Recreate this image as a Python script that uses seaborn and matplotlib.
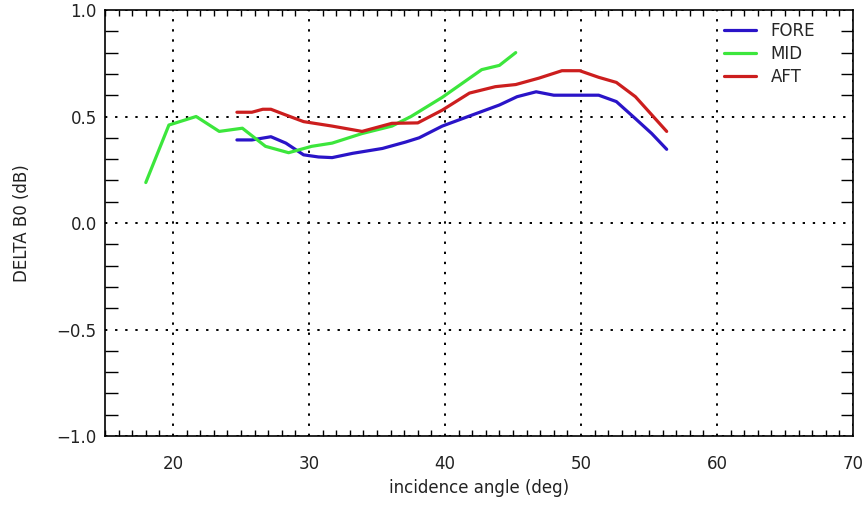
import numpy as np
import pandas as pd
import matplotlib
matplotlib.use("Agg")
import matplotlib.pyplot as plt
from matplotlib.ticker import MultipleLocator
import seaborn as sns

fore_x = [24.7, 25.8, 27.2, 28.3, 29.6, 30.7, 31.7, 33.2, 35.4, 37.1, 38.1, 39.8, 42.0, 44.0, 45.3, 46.7, 48.0, 49.9, 51.3, 52.6, 54.0, 55.2, 56.3]
fore_y = [0.39, 0.39, 0.405, 0.375, 0.32, 0.31, 0.307, 0.327, 0.35, 0.38, 0.40, 0.455, 0.507, 0.554, 0.593, 0.616, 0.60, 0.60, 0.60, 0.57, 0.49, 0.42, 0.346]

mid_x = [18.0, 19.7, 21.7, 23.4, 25.1, 26.8, 28.5, 30.2, 31.7, 33.9, 36.1, 37.5, 39.8, 42.7, 44.0, 45.2]
mid_y = [0.19, 0.46, 0.50, 0.43, 0.445, 0.36, 0.33, 0.36, 0.375, 0.42, 0.455, 0.50, 0.59, 0.72, 0.74, 0.80]

aft_x = [24.7, 25.8, 26.6, 27.2, 28.3, 29.6, 31.7, 33.9, 36.1, 38.0, 39.8, 41.8, 43.7, 45.2, 46.9, 48.6, 49.9, 51.3, 52.6, 54.0, 56.3]
aft_y = [0.52, 0.52, 0.534, 0.534, 0.507, 0.476, 0.455, 0.43, 0.468, 0.47, 0.53, 0.61, 0.64, 0.65, 0.68, 0.715, 0.715, 0.684, 0.66, 0.593, 0.43]

series = ["FORE", "MID", "AFT"]
colors = {"FORE": "#2a14c8", "MID": "#3ce63c", "AFT": "#cc1e1e"}

df = pd.concat([
    pd.DataFrame({"angle": fore_x, "delta": fore_y, "beam": "FORE"}),
    pd.DataFrame({"angle": mid_x, "delta": mid_y, "beam": "MID"}),
    pd.DataFrame({"angle": aft_x, "delta": aft_y, "beam": "AFT"}),
], ignore_index=True)

sns.set_style("white")
plt.rcParams["font.family"] = ["DejaVu Sans"]

fig = plt.figure(figsize=(8.67, 5.08), dpi=100)
ax = fig.add_axes([105 / 867, 1 - 436 / 508, (853 - 105) / 867, (436 - 10) / 508])

sns.lineplot(data=df, x="angle", y="delta", hue="beam", hue_order=series,
             palette=colors, sort=False, linewidth=2.3, ax=ax, estimator=None)

ax.set_xlim(15, 70)
ax.set_ylim(-1.0, 1.0)
ax.xaxis.set_minor_locator(MultipleLocator(1))
ax.yaxis.set_minor_locator(MultipleLocator(0.1))
ax.set_xticks([20, 30, 40, 50, 60, 70])
ax.set_xticklabels(["20", "30", "40", "50", "60", "70"])
ax.set_yticks([-1.0, -0.5, 0.0, 0.5, 1.0])
ax.set_yticklabels(["\u22121.0", "\u22120.5", "0.0", "0.5", "1.0"])

ax.tick_params(which="major", direction="in", length=0, labelsize=12,
               top=True, right=True, colors="black", labelcolor="#222222")
ax.tick_params(axis="x", which="major", pad=14)
ax.tick_params(axis="y", which="major", pad=6)
ax.tick_params(axis="x", which="minor", direction="in", length=4, width=1,
               top=True, bottom=True, color="black")
ax.tick_params(axis="y", which="minor", direction="in", length=9, width=1,
               left=True, right=True, color="black")

ax.grid(True, which="major", linestyle=(0, (1.2, 4)), color="black", linewidth=1.4)
for s in ax.spines.values():
    s.set_color("black")
    s.set_linewidth(1.2)

ax.set_xlabel("incidence angle (deg)", fontsize=12, color="#222222", labelpad=4)
ax.set_ylabel("DELTA B0 (dB)", fontsize=12, color="#222222", labelpad=18)

handles, labels = ax.get_legend_handles_labels()
ax.legend(handles, labels, loc="upper right", frameon=False, fontsize=12,
          handlelength=1.9, handletextpad=0.9, labelspacing=0.3,
          borderaxespad=0.3, bbox_to_anchor=(0.965, 1.0))

fig.savefig("out.png", dpi=100)
